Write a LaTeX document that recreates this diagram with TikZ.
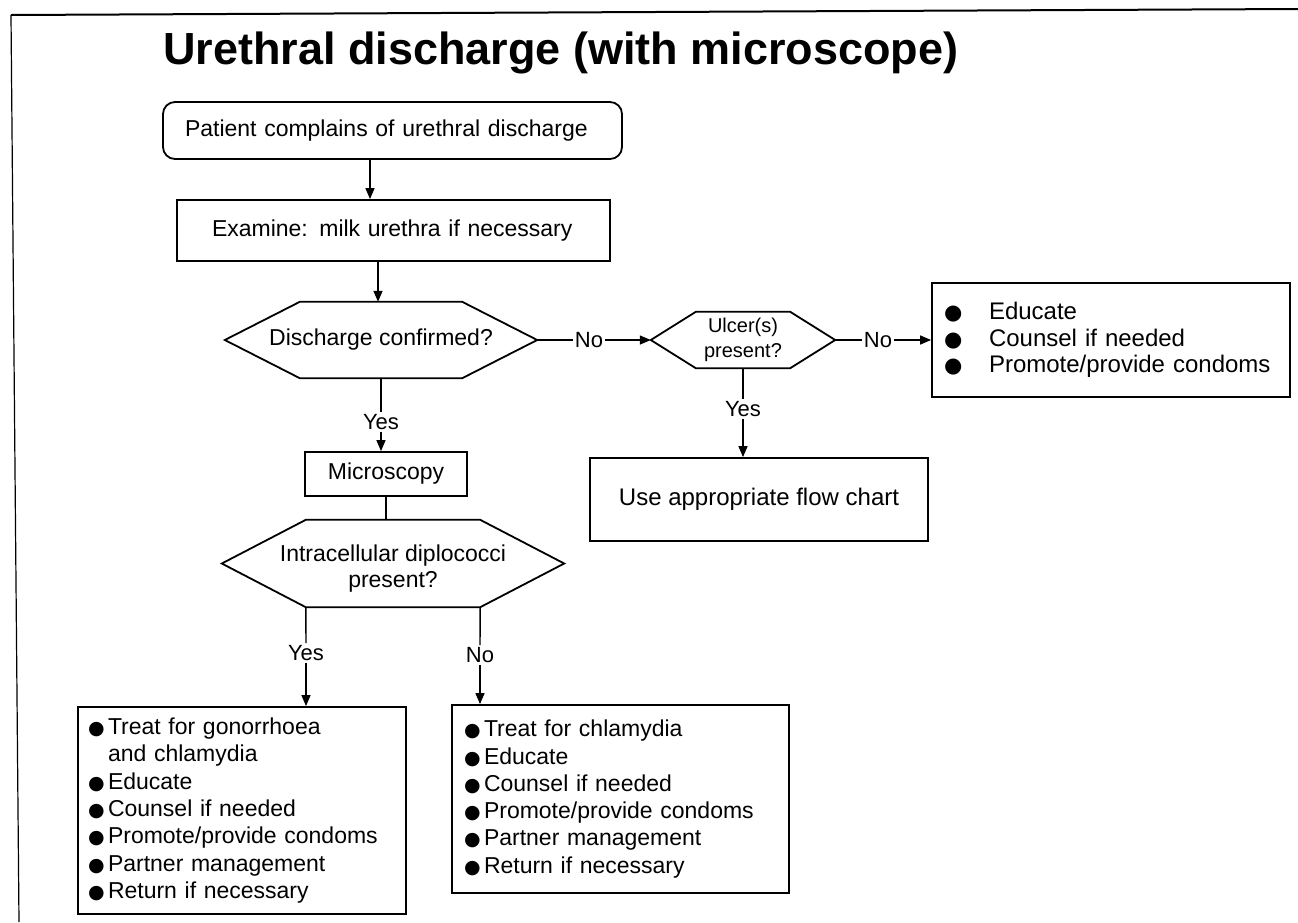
\documentclass[tikz,border=0pt]{standalone}
\usepackage{fontspec}
\setmainfont{Liberation Sans}
\newfontfamily\dejavu{DejaVu Sans}
\usetikzlibrary{arrows.meta}

% bullet in a box of fixed width
\newcommand\blt[2][19]{\makebox[#2][l]{\dejavu\fontsize{#1}{#1}\selectfont ●}}
% hexagonal decision outline around a node; #2 = depth of the side points
\newcommand\hexdraw[2]{\draw[line width=1.8pt] (#1.west) -- ([xshift=#2]#1.north west) -- ([xshift=-#2]#1.north east) -- (#1.east) -- ([xshift=-#2]#1.south east) -- ([xshift=#2]#1.south west) -- cycle;}

\begin{document}
\begin{tikzpicture}[x=1pt,y=-1pt,
  box/.style={draw,line width=1.8pt,rectangle,inner sep=0pt,font=\fontsize{23}{27.3}\selectfont},
  hexnode/.style={rectangle,inner sep=0pt,align=center,font=\fontsize{23}{26}\selectfont},
  lbl/.style={font=\fontsize{22}{24}\selectfont,inner sep=2pt},
  conn/.style={line width=1.4pt},
  arr/.style={conn,-{Triangle[length=11pt,width=9pt]}},
]
\useasboundingbox (0,0) rectangle (1298,922);

% page frame
\draw[line width=2pt] (1298,9) -- (11,15);
\draw[line width=1.2pt] (11,15) -- (19,922);

% heading
\node[anchor=base west,inner sep=0pt,font=\bfseries\fontsize{45}{50}\selectfont] (title) at (163,64) {Urethral discharge (with microscope)};

% main column
\node[box,rounded corners=12pt,minimum width=459,minimum height=57,text width=415,align=left] (start) at (392.5,130.5) {Patient complains of urethral discharge};
\node[box,minimum width=433,minimum height=61,text width=363,align=left] (exam) at (393.5,230.5) {Examine: milk urethra if necessary};
\node[hexnode,minimum width=312,minimum height=76] (dc) at (381,340) {Discharge confirmed?};
\hexdraw{dc}{75}
\node[box,minimum width=162,minimum height=44] (mic) at (386,474) {Microscopy};
\node[hexnode,minimum width=342,minimum height=87] (ic) at (393,563.5)
  {\raisebox{-6pt}[\height][\depth]{\begin{tabular}{@{}c@{}}Intracellular diplococci\\present?\end{tabular}}};
\hexdraw{ic}{84}

% right branch
\node[hexnode,minimum width=184,minimum height=56,font=\fontsize{20}{25}\selectfont] (ul) at (743,340) {Ulcer(s)\\present?};
\hexdraw{ul}{45}
\node[box,minimum width=358,minimum height=114,text width=334,align=left,font=\fontsize{24}{26.5}\selectfont] (rt) at (1111,340)
  {\blt[21]{45pt}Educate\\\blt[21]{45pt}Counsel if needed\\\blt[21]{45pt}Promote/provide condoms};
\node[box,minimum width=338,minimum height=83,font=\fontsize{24}{26}\selectfont] (use) at (759,499.5) {Use appropriate flow chart};

% treatment boxes
\node[box,minimum width=328,minimum height=207,text width=308,align=left] (lb) at (242,810.5)
  {\blt{20pt}Treat for gonorrhoea\\\hspace*{20pt}and chlamydia\\\blt{20pt}Educate\\\blt{20pt}Counsel if needed\\\blt{20pt}Promote/provide condoms\\\blt{20pt}Partner management\\\blt{20pt}Return if necessary};
\node[box,minimum width=337,minimum height=188,text width=313,align=left] (rb) at (620.5,799)
  {\blt{20pt}Treat for chlamydia\\\blt{20pt}Educate\\\blt{20pt}Counsel if needed\\\blt{20pt}Promote/provide condoms\\\blt{20pt}Partner management\\\blt{20pt}Return if necessary};

% branch labels
\node[lbl] (no1) at (589,340) {No};
\node[lbl] (no2) at (878,340) {No};
\node[lbl] (yes1) at (381,422) {Yes};
\node[lbl] (yes2) at (743,409) {Yes};
\node[lbl] (yes3) at (306,653) {Yes};
\node[lbl] (no3) at (480,655) {No};

% connectors
\draw[arr] ([xshift=-22.5]start.south) -- ([xshift=-22.5]start.south |- exam.north);
\draw[arr] ([xshift=-15.5]exam.south) -- ([xshift=-15.5]exam.south |- dc.north);
\draw[conn] (dc.east) -- (no1.west);
\draw[arr] (no1.east) -- (ul.west);
\draw[conn] (ul.east) -- (no2.west);
\draw[arr] (no2.east) -- (rt.west);
\draw[conn] (ul.south) -- (yes2.north);
\draw[arr] (yes2.south) -- (yes2.south |- use.north);
\draw[conn] (dc.south) -- (yes1.north);
\draw[arr] (yes1.south) -- (yes1.south |- mic.north);
\draw[conn] (mic.south) -- (mic.south |- ic.north);
\draw[conn] ([xshift=84]ic.south west) -- (yes3.north);
\draw[arr] (yes3.south) -- (yes3.south |- lb.north);
\draw[conn] ([xshift=-84]ic.south east) -- (no3.north);
\draw[arr] (no3.south) -- (no3.south |- rb.north);
\end{tikzpicture}
\end{document}
